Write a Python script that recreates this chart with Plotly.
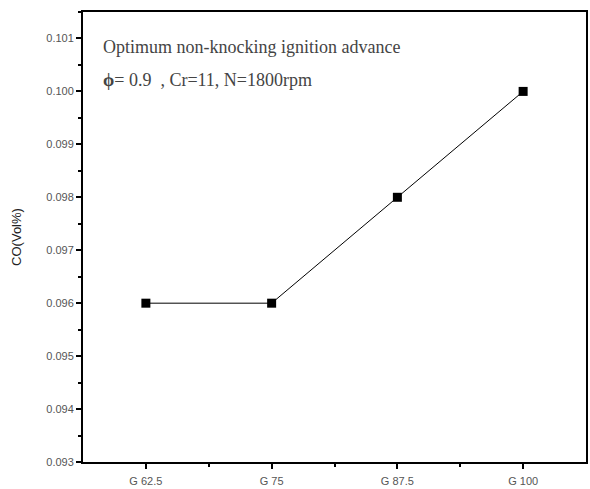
import plotly.graph_objects as go

categories = ["G62.5", "G75", "G87.5", "G100"]
tick_labels = ["G 62.5", "G 75", "G 87.5", "G 100"]
co_values = [0.096, 0.096, 0.098, 0.100]
y_ticks = [0.093, 0.094, 0.095, 0.096, 0.097, 0.098, 0.099, 0.100, 0.101]

x_idx = list(range(len(categories)))

fig = go.Figure()
fig.add_trace(go.Scatter(
    x=x_idx, y=co_values, mode="lines+markers",
    line=dict(color="black", width=1),
    marker=dict(symbol="square", size=9, color="black"),
    showlegend=False,
))

axis_font = dict(family="Arial, Liberation Sans, sans-serif", size=11, color="#555")

fig.update_layout(
    width=590, height=489,
    margin=dict(l=83, r=2, t=12, b=27),
    paper_bgcolor="white", plot_bgcolor="white",
    xaxis=dict(
        range=[-0.5, 3.5], tickvals=x_idx, ticktext=tick_labels,
        showgrid=False, zeroline=False,
        showline=True, linecolor="black", linewidth=2, mirror=True,
        ticks="outside", ticklen=5, tickcolor="black", tickwidth=1.5,
        tickfont=axis_font, ticklabelstandoff=3,
        minor=dict(tickvals=[0.5, 1.5, 2.5], ticks="outside", ticklen=3, tickcolor="black", tickwidth=1.5),
    ),
    yaxis=dict(
        range=[0.093, 0.1015], tickvals=y_ticks,
        ticktext=[f"{v:.3f}" for v in y_ticks],
        showgrid=False, zeroline=False,
        showline=True, linecolor="black", linewidth=2, mirror=True,
        ticks="outside", ticklen=5, tickcolor="black", tickwidth=1.5,
        tickfont=axis_font,
        minor=dict(dtick=0.0005, tick0=0.093, ticks="outside", ticklen=3, tickcolor="black", tickwidth=1.5),
        title=dict(text="CO(Vol%)", font=dict(family="Arial, Liberation Sans, sans-serif", size=13, color="#222"), standoff=22),
    ),
    annotations=[
        dict(xref="paper", yref="paper", x=0.035, y=0.922, xanchor="left", yanchor="middle",
             text="Optimum non-knocking ignition advance", showarrow=False,
             font=dict(family="Liberation Serif, Times New Roman, serif", size=18, color="#444")),
        dict(xref="paper", yref="paper", x=0.035, y=0.849, xanchor="left", yanchor="middle",
             text="<b>ϕ</b>= 0.9  , Cr=11, N=1800rpm", showarrow=False,
             font=dict(family="Liberation Serif, Times New Roman, serif", size=18, color="#444")),
    ],
)

fig.write_html("out.html")
